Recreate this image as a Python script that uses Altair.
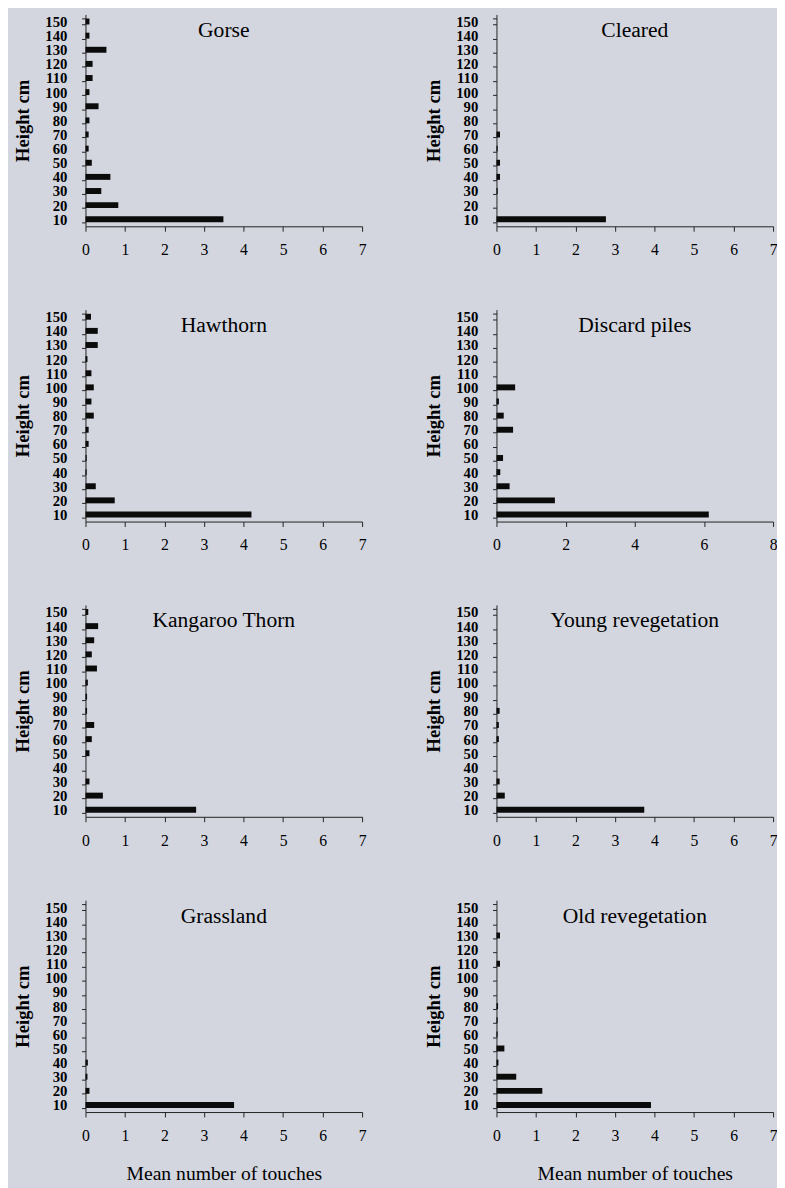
import altair as alt
import pandas as pd

HEIGHTS = [10, 20, 30, 40, 50, 60, 70, 80, 90, 100, 110, 120, 130, 140, 150]

SITES = ["Gorse", "Cleared", "Hawthorn", "Discard piles",
         "Kangaroo Thorn", "Young revegetation", "Grassland", "Old revegetation"]

gorse = [3.49, 0.83, 0.40, 0.63, 0.16, 0.08, 0.08, 0.10, 0.33, 0.10, 0.18, 0.18, 0.53, 0.10, 0.10]
cleared = [2.77, 0.0, 0.03, 0.09, 0.09, 0.03, 0.09, 0.0, 0.0, 0.0, 0.0, 0.0, 0.0, 0.0, 0.0]
hawthorn = [4.20, 0.74, 0.26, 0.03, 0.03, 0.08, 0.08, 0.21, 0.15, 0.21, 0.15, 0.05, 0.31, 0.31, 0.14]
discard = [6.14, 1.69, 0.38, 0.11, 0.19, 0.0, 0.48, 0.21, 0.07, 0.54, 0.0, 0.0, 0.0, 0.0, 0.0]
kangaroo = [2.80, 0.44, 0.10, 0.0, 0.10, 0.16, 0.22, 0.04, 0.04, 0.06, 0.29, 0.16, 0.22, 0.32, 0.07]
young = [3.74, 0.21, 0.08, 0.0, 0.0, 0.06, 0.06, 0.08, 0.0, 0.0, 0.0, 0.0, 0.0, 0.0, 0.0]
grassland = [3.76, 0.10, 0.05, 0.06, 0.0, 0.0, 0.0, 0.0, 0.0, 0.0, 0.0, 0.0, 0.0, 0.0, 0.0]
old = [3.91, 1.16, 0.50, 0.05, 0.20, 0.03, 0.03, 0.04, 0.0, 0.0, 0.09, 0.0, 0.09, 0.0, 0.0]

VALUES = [gorse, cleared, hawthorn, discard, kangaroo, young, grassland, old]

X_MAX = [7, 7, 7, 8, 7, 7, 7, 7]
X_TICKS_7 = [0, 1, 2, 3, 4, 5, 6, 7]
X_TICKS_8 = [0, 2, 4, 6, 8]

Y_TITLE = "Height cm"
X_TITLE = "Mean number of touches"

SERIF = "Liberation Serif"
W = 282
H = 216


def panel(name, vals, xmax, bottom):
    df = pd.DataFrame({"height": HEIGHTS, "touches": vals})
    ticks = X_TICKS_8 if xmax == 8 else X_TICKS_7
    bars = alt.Chart(df).mark_bar(color="#0b0b0b").encode(
        y=alt.Y(
            "height:O",
            sort="descending",
            scale=alt.Scale(paddingInner=0.58, paddingOuter=0.29),
            axis=alt.Axis(
                title=Y_TITLE,
                titleFontSize=19,
                titleFontWeight="bold",
                titlePadding=13,
                labelFontSize=15,
                labelFontWeight="bold",
                labelPadding=15,
                labelOverlap=False,
                tickSize=4,
                tickBand="extent",
            ),
        ),
        x=alt.X(
            "touches:Q",
            scale=alt.Scale(domain=[0, xmax], nice=False),
            axis=alt.Axis(
                values=ticks,
                title=X_TITLE if bottom else None,
                titleFontSize=20,
                titleFontWeight="normal",
                titlePadding=21,
                labelFontSize=16,
                labelPadding=11,
                labelFlush=False,
                tickSize=5,
            ),
        ),
    )
    label = alt.Chart(pd.DataFrame({"t": [name]})).mark_text(
        font=SERIF, fontSize=22, color="#000", baseline="middle", align="center"
    ).encode(text="t:N", x=alt.value(W / 2), y=alt.value(16))
    return alt.layer(bars, label).properties(width=W, height=H)


panels = [panel(SITES[i], VALUES[i], X_MAX[i], i >= 6) for i in range(8)]
rows = [alt.hconcat(panels[2 * r], panels[2 * r + 1], spacing=59) for r in range(4)]

chart = alt.vconcat(*rows, spacing=46).properties(
    padding={"left": 5, "top": -12, "right": 0, "bottom": 0}
).configure(
    background="#d3d6df", font=SERIF
).configure_view(stroke=None).configure_axis(
    grid=False,
    domainColor="#222",
    tickColor="#222",
    labelColor="#000",
    titleColor="#000",
    labelFont=SERIF,
    titleFont=SERIF,
)

chart.save("out.html", embed_options={"renderer": "svg", "actions": False})
